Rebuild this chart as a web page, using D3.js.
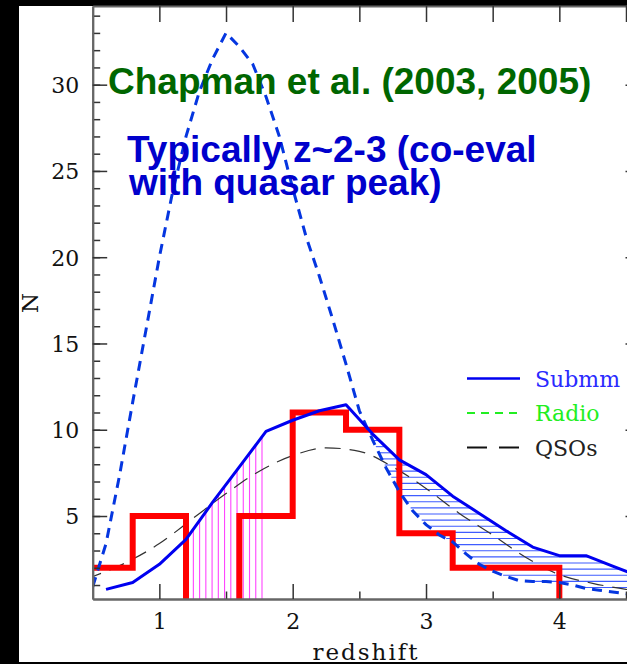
<!DOCTYPE html>
<html>
<head>
<meta charset="utf-8">
<script src="https://cdn.jsdelivr.net/npm/d3@7"></script>
<style>
  html, body { margin: 0; padding: 0; background: #000; }
  svg { display: block; }
</style>
</head>
<body>
<svg id="chart" width="627" height="664"></svg>
<script>
// red histogram of the submm sample
const binEdges = [0.4, 0.8, 1.2, 1.6, 2.0, 2.4, 2.8, 3.2, 3.6, 4.0];
const binCounts = [2, 5, 0, 5, 11, 10, 4, 2, 2];

// blue solid curve (Submm)
const submmZ = [0.6, 0.8, 1.0, 1.2, 1.4, 1.6, 1.8, 2.0, 2.2, 2.4, 2.6, 2.8, 3.0, 3.2, 3.4, 3.6, 3.8, 4.0, 4.2, 4.4, 4.6];
const submmN = [0.75, 1.15, 2.2, 3.65, 5.8, 7.85, 9.9, 10.55, 11.1, 11.45, 9.75, 8.25, 7.4, 6.15, 5.15, 4.15, 3.2, 2.7, 2.7, 2.1, 1.5];

// blue dashed curve (big peak near z~1.5)
const peakZ = [0.5, 0.6, 0.7, 0.8, 0.9, 1.0, 1.1, 1.2, 1.3, 1.4, 1.5, 1.6, 1.7, 1.8, 1.9, 2.0, 2.1, 2.2, 2.3, 2.4, 2.5,
               2.6, 2.7, 2.8, 2.9, 3.0, 3.1, 3.2, 3.3, 3.4, 3.5, 3.6, 3.7, 3.8, 3.9, 4.0, 4.1, 4.2, 4.3, 4.4, 4.5, 4.6];
const peakN = [0.9, 3.4, 7.3, 11.6, 15.8, 20.0, 23.8, 27.0, 29.6, 31.5, 33.0, 32.2, 31.2, 29.3, 27.0, 24.0, 21.2, 18.9, 16.4, 13.8, 11.1,
               9.4, 7.8, 6.4, 5.3, 4.5, 3.9, 3.5, 2.8, 2.2, 1.8, 1.5, 1.25, 1.2, 1.2, 1.15, 1.0, 0.8, 0.7, 0.6, 0.5, 0.4];

// black long-dashed curve (QSOs)
const qsoZ = [0.45, 0.75, 1.0, 1.25, 1.5, 1.75, 2.0, 2.25, 2.5, 2.75, 3.0, 3.25, 3.5, 3.75, 4.0, 4.25, 4.5, 4.65];
const qsoN = [1.35, 2.3, 3.4, 4.85, 6.3, 7.6, 8.5, 8.95, 8.75, 7.85, 6.6, 5.15, 3.9, 2.6, 1.6, 1.1, 0.75, 0.6];

const yTickLabels = [5, 10, 15, 20, 25, 30];
const xTickLabels = [1, 2, 3, 4];
const legendLabels = ['Submm', 'Radio', 'QSOs'];
const titleText = 'Chapman et al. (2003, 2005)';
const noteLines = ['Typically z~2-3 (co-eval', 'with quasar peak)'];

const margin = { left: 92.7, right: 640, top: 6, bottom: 599 };

const svg = d3.select('#chart');

svg.append('rect')
  .attr('x', 19).attr('y', 6)
  .attr('width', 608).attr('height', 656)
  .attr('fill', '#fff');

const x = d3.scaleLinear().domain([0.5, 4.605]).range([margin.left, margin.right]);
const y = d3.scaleLinear().domain([0.19, 34.56]).range([margin.bottom, margin.top]);

svg.append('clipPath').attr('id', 'plotclip')
  .append('rect')
  .attr('x', margin.left).attr('y', margin.top)
  .attr('width', margin.right - margin.left).attr('height', margin.bottom - margin.top);

const plot = svg.append('g').attr('clip-path', 'url(#plotclip)');

// linear position on a drawn polyline (used for hatch ends)
function valueAt(zs, ns, z) {
  for (let i = 0; i < zs.length - 1; i++) {
    if (z >= zs[i] && z <= zs[i + 1]) {
      const t = (z - zs[i]) / (zs[i + 1] - zs[i]);
      return ns[i] + t * (ns[i + 1] - ns[i]);
    }
  }
  return null;
}
function crossing(zs, ns, h, from) {
  for (let i = 0; i < zs.length - 1; i++) {
    if (zs[i + 1] <= from) continue;
    if (ns[i] >= h && ns[i + 1] < h) {
      const t = (ns[i] - h) / (ns[i] - ns[i + 1]);
      return zs[i] + t * (zs[i + 1] - zs[i]);
    }
  }
  return null;
}

// magenta vertical hatching under the submm curve
const magentaX = d3.range(1.255, 1.78, 0.0468);
plot.append('g').selectAll('line')
  .data(magentaX)
  .join('line')
  .attr('x1', d => x(d)).attr('x2', d => x(d))
  .attr('y1', y(0))
  .attr('y2', d => y(valueAt(submmZ, submmN, d)))
  .attr('stroke', '#ff44ff')
  .attr('stroke-width', 1.1);

// blue horizontal hatching between solid and dashed curves
const hatchLevels = d3.range(0.5, 12, 0.355);
const hatch = [];
hatchLevels.forEach(h => {
  const x1 = crossing(peakZ, peakN, h, 2.45);
  if (x1 === null) return;
  let x2 = crossing(submmZ, submmN, h, 2.45);
  if (x2 === null) {
    if (submmN[submmN.length - 1] >= h) x2 = x.domain()[1];
    else return;
  }
  if (x2 > x1) hatch.push({ h, x1, x2 });
});
plot.append('g').selectAll('line')
  .data(hatch)
  .join('line')
  .attr('x1', d => x(d.x1)).attr('x2', d => x(d.x2))
  .attr('y1', d => y(d.h)).attr('y2', d => y(d.h))
  .attr('stroke', '#3f5cff')
  .attr('stroke-width', 1.1);

// QSO curve
const qsoLine = d3.line().x((d, i) => x(qsoZ[i])).y(d => y(d)).curve(d3.curveMonotoneX);
plot.append('path')
  .attr('d', qsoLine(qsoN))
  .attr('fill', 'none')
  .attr('stroke', '#333')
  .attr('stroke-width', 1.2)
  .attr('stroke-dasharray', '16,9');

// red histogram
const histPts = binCounts.map((c, i) => [binEdges[i], c]);
histPts.push([binEdges[binEdges.length - 1], 0]);
histPts.push([4.7, 0]);
const stepLine = d3.line().x(d => x(d[0])).y(d => y(d[1])).curve(d3.curveStepAfter);
plot.append('path')
  .attr('d', stepLine(histPts))
  .attr('fill', 'none')
  .attr('stroke', '#ff0000')
  .attr('stroke-width', 6)
  .attr('stroke-linejoin', 'miter');

// blue dashed
const peakLine = d3.line().x((d, i) => x(peakZ[i])).y(d => y(d));
plot.append('path')
  .attr('d', peakLine(peakN))
  .attr('fill', 'none')
  .attr('stroke', '#0536e0')
  .attr('stroke-width', 3)
  .attr('stroke-dasharray', '10,7');

// blue solid
const submmLine = d3.line().x((d, i) => x(submmZ[i])).y(d => y(d));
plot.append('path')
  .attr('d', submmLine(submmN))
  .attr('fill', 'none')
  .attr('stroke', '#0000f0')
  .attr('stroke-width', 3)
  .attr('stroke-linejoin', 'round');

// axes
const yMinor = d3.range(1, 35);
const xHalf = [1, 1.5, 2, 2.5, 3, 3.5, 4, 4.5];
const intFmt = d3.format('d');

const leftMinor = svg.append('g').attr('class', 'axis')
  .attr('transform', `translate(${margin.left},0)`)
  .call(d3.axisLeft(y).tickValues(yMinor).tickSize(-7.5).tickSizeOuter(0).tickFormat(''));
const leftMajor = svg.append('g').attr('class', 'axis')
  .attr('transform', `translate(${margin.left},0)`)
  .call(d3.axisLeft(y).tickValues(yTickLabels).tickSize(-14.5).tickSizeOuter(0).tickPadding(13.5).tickFormat(intFmt));

const rightAxis = svg.append('g').attr('class', 'axis')
  .attr('transform', `translate(${margin.right},0)`)
  .call(d3.axisRight(y).tickValues(yTickLabels).tickSize(-14.5).tickSizeOuter(0).tickFormat(''));

const bottomMinor = svg.append('g').attr('class', 'axis')
  .attr('transform', `translate(0,${margin.bottom})`)
  .call(d3.axisBottom(x).tickValues([1.5, 2.5, 3.5, 4.5]).tickSize(-7.5).tickSizeOuter(0).tickFormat(''));
const bottomMajor = svg.append('g').attr('class', 'axis')
  .attr('transform', `translate(0,${margin.bottom})`)
  .call(d3.axisBottom(x).tickValues(xTickLabels).tickSize(-15).tickSizeOuter(0).tickPadding(14).tickFormat(intFmt));

const topAxis = svg.append('g').attr('class', 'axis')
  .attr('transform', `translate(0,${margin.top})`)
  .call(d3.axisTop(x).tickValues(xHalf).tickSize(-16).tickSizeOuter(0).tickFormat(''));

svg.selectAll('.axis .domain').attr('stroke', '#666').attr('stroke-width', 2);
svg.selectAll('.axis .tick line').attr('stroke', '#333').attr('stroke-width', 1.5);
svg.selectAll('.axis .tick text')
  .attr('fill', '#111')
  .attr('font-family', '"DejaVu Serif", serif')
  .attr('font-size', 22);
leftMajor.selectAll('.tick text').attr('dy', '0.36em');

// axis titles
svg.append('text')
  .attr('x', 366).attr('y', 660)
  .attr('text-anchor', 'middle')
  .attr('font-family', '"DejaVu Serif", serif')
  .attr('font-size', 23)
  .attr('letter-spacing', 2)
  .attr('fill', '#111')
  .text('redshift');

svg.append('text')
  .attr('transform', 'translate(38,303) rotate(-90)')
  .attr('text-anchor', 'middle')
  .attr('font-family', '"DejaVu Serif", serif')
  .attr('font-size', 23)
  .attr('fill', '#111')
  .text('N');

// legend
const legendStyles = [
  { color: '#0000f0', dash: null, width: 2.5, text: '#2a2aff' },
  { color: '#22ee22', dash: '8,6', width: 2, text: '#22ee22' },
  { color: '#111', dash: '20,12', width: 2, text: '#222' }
];
const legend = svg.append('g');
legendLabels.forEach((label, i) => {
  const ly = 378.5 + i * 34.5;
  const st = legendStyles[i];
  legend.append('line')
    .attr('x1', 467).attr('x2', 520)
    .attr('y1', ly).attr('y2', ly)
    .attr('stroke', st.color)
    .attr('stroke-width', st.width)
    .attr('stroke-dasharray', st.dash);
  legend.append('text')
    .attr('x', 535).attr('y', ly + 8)
    .attr('font-family', '"DejaVu Serif", serif')
    .attr('font-size', 22)
    .attr('fill', st.text)
    .text(label);
});

// annotations
svg.append('text')
  .attr('x', 108).attr('y', 94)
  .attr('font-family', '"Liberation Sans", Arial, sans-serif')
  .attr('font-weight', 'bold')
  .attr('font-size', 37)
  .attr('fill', '#006600')
  .text(titleText);

svg.append('g').selectAll('text')
  .data(noteLines)
  .join('text')
  .attr('x', (d, i) => 127 + i * 2)
  .attr('y', (d, i) => 162 + i * 33)
  .attr('font-family', '"Liberation Sans", Arial, sans-serif')
  .attr('font-weight', 'bold')
  .attr('font-size', 37)
  .attr('fill', '#0000cc')
  .text(d => d);
</script>
</body>
</html>
